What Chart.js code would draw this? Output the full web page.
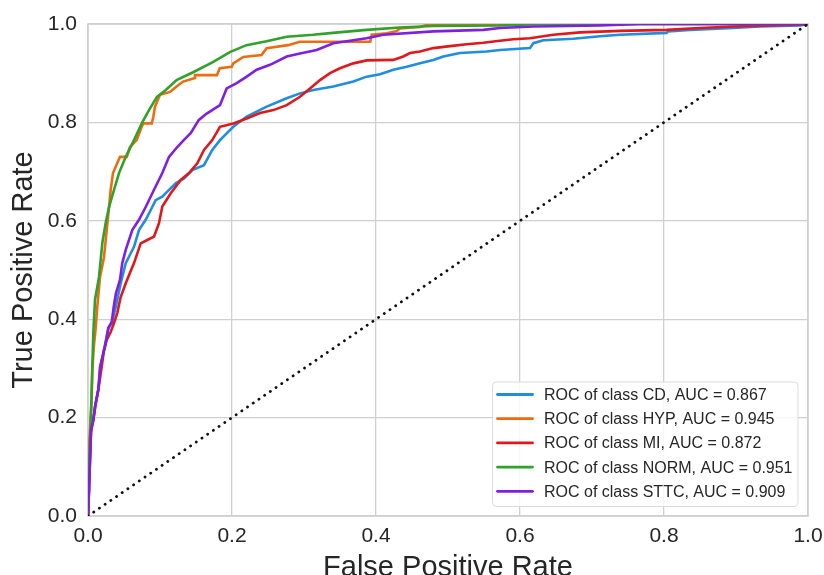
<!DOCTYPE html>
<html>
<head>
<meta charset="utf-8">
<title>ROC curves</title>
<script src="https://cdn.jsdelivr.net/npm/chart.js@4.4.1/dist/chart.umd.min.js"></script>
<style>
  html, body { margin: 0; padding: 0; background: #ffffff; }
  #wrap { width: 824px; height: 575px; position: relative; }
</style>
</head>
<body>
<div id="wrap"><canvas id="roc"></canvas></div>
<script>
// ---- data ----
const classNames = ['CD', 'HYP', 'MI', 'NORM', 'STTC'];
const aucValues = [0.867, 0.945, 0.872, 0.951, 0.909];
const tickValues = [0.0, 0.2, 0.4, 0.6, 0.8, 1.0];

const cdFpr  = [0, 0.0014, 0.0028, 0.0042, 0.0076, 0.0104, 0.0146, 0.0174, 0.0236, 0.0285, 0.0333, 0.0385, 0.0454, 0.0524, 0.0593, 0.0639, 0.0708, 0.0801, 0.0871, 0.094, 0.1032, 0.1125, 0.1218, 0.1333, 0.1449, 0.161, 0.1726, 0.1833, 0.2018, 0.2204, 0.2482, 0.276, 0.2944, 0.3129, 0.3407, 0.3685, 0.387, 0.4056, 0.424, 0.4426, 0.4611, 0.4796, 0.4935, 0.5167, 0.5537, 0.5722, 0.6139, 0.6185, 0.6324, 0.674, 0.711, 0.7389, 0.8037, 0.8056, 0.836, 0.896, 0.933, 0.989, 1];
const cdTpr  = [0, 0.053, 0.124, 0.179, 0.199, 0.226, 0.260, 0.305, 0.348, 0.382, 0.394, 0.425, 0.473, 0.514, 0.534, 0.547, 0.581, 0.602, 0.622, 0.642, 0.649, 0.663, 0.676, 0.686, 0.703, 0.713, 0.744, 0.764, 0.791, 0.812, 0.832, 0.849, 0.859, 0.866, 0.873, 0.883, 0.893, 0.898, 0.907, 0.913, 0.920, 0.927, 0.934, 0.941, 0.944, 0.947, 0.951, 0.961, 0.967, 0.970, 0.975, 0.978, 0.982, 0.985, 0.988, 0.992, 0.995, 0.997, 1];

const hypFpr = [0, 0.0007, 0.002, 0.0035, 0.005, 0.006, 0.0083, 0.0104, 0.0129, 0.0167, 0.0222, 0.026, 0.0292, 0.0315, 0.0347, 0.0444, 0.0538, 0.0583, 0.0676, 0.0746, 0.0768, 0.0885, 0.0907, 0.093, 0.1, 0.1139, 0.123, 0.132, 0.1486, 0.1486, 0.179, 0.183, 0.1996, 0.2018, 0.2157, 0.241, 0.248, 0.278, 0.294, 0.392, 0.394, 0.415, 0.429, 0.433, 0.461, 0.475, 1];
const hypTpr = [0, 0.073, 0.154, 0.195, 0.236, 0.297, 0.348, 0.378, 0.425, 0.486, 0.526, 0.581, 0.628, 0.663, 0.697, 0.730, 0.730, 0.750, 0.764, 0.791, 0.798, 0.798, 0.811, 0.832, 0.856, 0.862, 0.873, 0.883, 0.890, 0.896, 0.896, 0.910, 0.913, 0.920, 0.933, 0.937, 0.951, 0.957, 0.964, 0.964, 0.978, 0.981, 0.986, 0.991, 0.994, 1, 1];

const miFpr  = [0, 0.0014, 0.0028, 0.0042, 0.0074, 0.0104, 0.0143, 0.019, 0.0222, 0.026, 0.0315, 0.0361, 0.0407, 0.043, 0.0454, 0.0524, 0.0639, 0.0732, 0.0824, 0.0917, 0.0986, 0.1032, 0.1149, 0.1288, 0.1403, 0.1518, 0.1611, 0.1726, 0.1833, 0.2018, 0.2204, 0.2389, 0.2574, 0.276, 0.2944, 0.3083, 0.3222, 0.3361, 0.35, 0.3685, 0.387, 0.424, 0.4379, 0.4472, 0.4611, 0.4796, 0.5028, 0.526, 0.549, 0.572, 0.5907, 0.6139, 0.6463, 0.6833, 0.7389, 0.8037, 0.85, 0.8963, 0.989, 1];
const miTpr  = [0, 0.053, 0.114, 0.171, 0.195, 0.226, 0.256, 0.303, 0.337, 0.358, 0.374, 0.392, 0.413, 0.429, 0.445, 0.473, 0.514, 0.554, 0.561, 0.568, 0.595, 0.629, 0.656, 0.683, 0.697, 0.717, 0.744, 0.764, 0.791, 0.798, 0.808, 0.819, 0.825, 0.835, 0.852, 0.869, 0.886, 0.900, 0.910, 0.920, 0.926, 0.927, 0.934, 0.941, 0.944, 0.951, 0.955, 0.959, 0.962, 0.966, 0.969, 0.971, 0.978, 0.983, 0.986, 0.988, 0.992, 0.995, 0.9985, 1];

const normFpr = [0, 0.0014, 0.0037, 0.0046, 0.006, 0.0074, 0.0097, 0.0153, 0.0199, 0.0246, 0.0292, 0.0361, 0.0431, 0.0524, 0.0639, 0.075, 0.0847, 0.0958, 0.108, 0.123, 0.146, 0.174, 0.197, 0.220, 0.248, 0.276, 0.3125, 0.340, 0.387, 0.433, 0.479, 0.572, 0.628, 1];
const normTpr = [0, 0.0935, 0.189, 0.230, 0.303, 0.372, 0.439, 0.486, 0.555, 0.596, 0.628, 0.663, 0.697, 0.730, 0.764, 0.799, 0.825, 0.852, 0.866, 0.886, 0.902, 0.923, 0.943, 0.957, 0.965, 0.974, 0.978, 0.982, 0.988, 0.993, 0.996, 0.997, 1, 1];

const sttcFpr = [0, 0.0014, 0.0028, 0.0042, 0.0074, 0.0097, 0.0143, 0.0167, 0.0236, 0.0282, 0.0329, 0.0361, 0.0389, 0.0444, 0.0476, 0.0524, 0.0615, 0.0708, 0.0801, 0.0917, 0.1032, 0.1125, 0.124, 0.133, 0.1426, 0.154, 0.1649, 0.1833, 0.1926, 0.2065, 0.2204, 0.2343, 0.2528, 0.276, 0.2944, 0.3176, 0.3407, 0.387, 0.410, 0.4796, 0.549, 0.572, 0.6185, 0.711, 0.767, 1];
const sttcTpr = [0, 0.053, 0.114, 0.175, 0.195, 0.222, 0.256, 0.303, 0.344, 0.382, 0.394, 0.429, 0.453, 0.480, 0.514, 0.541, 0.581, 0.602, 0.628, 0.663, 0.697, 0.730, 0.750, 0.764, 0.778, 0.805, 0.818, 0.835, 0.869, 0.880, 0.893, 0.907, 0.917, 0.934, 0.940, 0.947, 0.961, 0.971, 0.978, 0.985, 0.988, 0.992, 0.995, 0.997, 1, 1];

const chanceFpr = [0, 1];
const chanceTpr = [0, 1];

// ---- styling ----
const palette = ['#1f8de0', '#ec6c10', '#e0181b', '#30a22a', '#7e1fe2'];
const textColor = '#262626';
const gridColor = '#d0d0d0';
const baseFont = '"Liberation Sans", Arial, sans-serif';

const curves = [
  [cdFpr, cdTpr], [hypFpr, hypTpr], [miFpr, miTpr], [normFpr, normTpr], [sttcFpr, sttcTpr]
];

const toPoints = (xs, ys) => xs.map((x, i) => ({ x: x, y: ys[i] }));

const datasets = curves.map(([fpr, tpr], i) => ({
  label: `ROC of class ${classNames[i]}, AUC = ${aucValues[i].toFixed(3)}`,
  data: toPoints(fpr, tpr),
  borderColor: palette[i],
  backgroundColor: palette[i],
  borderWidth: 2.6,
  pointRadius: 0,
  tension: 0,
  fill: false,
  order: classNames.length - i
}));

// chance diagonal
datasets.push({
  label: null,
  data: toPoints(chanceFpr, chanceTpr),
  borderColor: '#111111',
  borderWidth: 2.8,
  borderDash: [0.1, 6.8],
  borderCapStyle: 'round',
  pointRadius: 0,
  fill: false,
  order: 0
});

// light frame around the plotting area
const framePlugin = {
  id: 'frame',
  beforeDatasetsDraw(chart) {
    const { ctx, chartArea: a } = chart;
    ctx.save();
    ctx.strokeStyle = gridColor;
    ctx.lineWidth = 1.6;
    ctx.strokeRect(a.left, a.top, a.right - a.left, a.bottom - a.top);
    ctx.restore();
  }
};

// boxed legend in the lower-right corner of the plot
const boxLegendPlugin = {
  id: 'boxLegend',
  afterDraw(chart) {
    const { ctx, chartArea: a } = chart;
    const items = chart.data.datasets.filter(d => d.label);
    const boxRight = a.right - 10;
    const boxBottom = a.bottom - 9.5;
    const boxW = 305.5;
    const rowH = 24.2;
    const boxH = items.length * rowH + 3.5;
    const x0 = boxRight - boxW;
    const y0 = boxBottom - boxH;
    ctx.save();
    ctx.beginPath();
    ctx.roundRect(x0, y0, boxW, boxH, 4);
    ctx.fillStyle = 'rgba(255,255,255,0.82)';
    ctx.fill();
    ctx.strokeStyle = '#dcdcdc';
    ctx.lineWidth = 1;
    ctx.stroke();
    ctx.font = `16px ${baseFont}`;
    ctx.textBaseline = 'middle';
    ctx.textAlign = 'left';
    items.forEach((d, i) => {
      const cy = y0 + 12.5 + i * rowH;
      ctx.beginPath();
      ctx.moveTo(x0 + 5, cy);
      ctx.lineTo(x0 + 40, cy);
      ctx.strokeStyle = d.borderColor;
      ctx.lineWidth = 2.8;
      ctx.lineCap = 'round';
      ctx.stroke();
      ctx.fillStyle = textColor;
      ctx.fillText(d.label, x0 + 51.5, cy + 1);
    });
    ctx.restore();
  }
};

new Chart(document.getElementById('roc'), {
  type: 'line',
  data: { datasets: datasets },
  options: {
    responsive: true,
    maintainAspectRatio: false,
    devicePixelRatio: 1,
    animation: false,
    layout: { padding: { left: 0, right: 16, top: 24, bottom: 0 } },
    plugins: {
      legend: { display: false },
      tooltip: { enabled: false }
    },
    scales: {
      x: {
        type: 'linear',
        min: 0,
        max: 1,
        afterBuildTicks(axis) { axis.ticks = tickValues.map(v => ({ value: v })); },
        afterFit(axis) {
          axis.height = 59;
          axis.paddingLeft = 0;
          axis.paddingRight = 0;
        },
        grid: { color: gridColor, lineWidth: 1.3, drawTicks: false },
        border: { display: false },
        ticks: {
          padding: 8,
          color: textColor,
          font: { family: baseFont, size: 21 },
          maxRotation: 0,
          callback: v => Number(v).toFixed(1)
        },
        title: {
          display: true,
          text: 'False Positive Rate',
          color: textColor,
          font: { family: baseFont, size: 29, lineHeight: 0.8 },
          padding: { top: 0, bottom: -5 }
        }
      },
      y: {
        type: 'linear',
        min: 0,
        max: 1,
        afterBuildTicks(axis) { axis.ticks = tickValues.map(v => ({ value: v })); },
        afterFit(axis) {
          axis.width = 88;
          axis.paddingTop = 0;
          axis.paddingBottom = 0;
        },
        grid: { color: gridColor, lineWidth: 1.3, drawTicks: false },
        border: { display: false },
        ticks: {
          padding: 11,
          color: textColor,
          font: { family: baseFont, size: 21 },
          callback: v => Number(v).toFixed(1)
        },
        title: {
          display: true,
          text: 'True Positive Rate',
          color: textColor,
          font: { family: baseFont, size: 29, lineHeight: 1.2 },
          padding: { top: 7, bottom: 0 }
        }
      }
    }
  },
  plugins: [framePlugin, boxLegendPlugin]
});
</script>
</body>
</html>
